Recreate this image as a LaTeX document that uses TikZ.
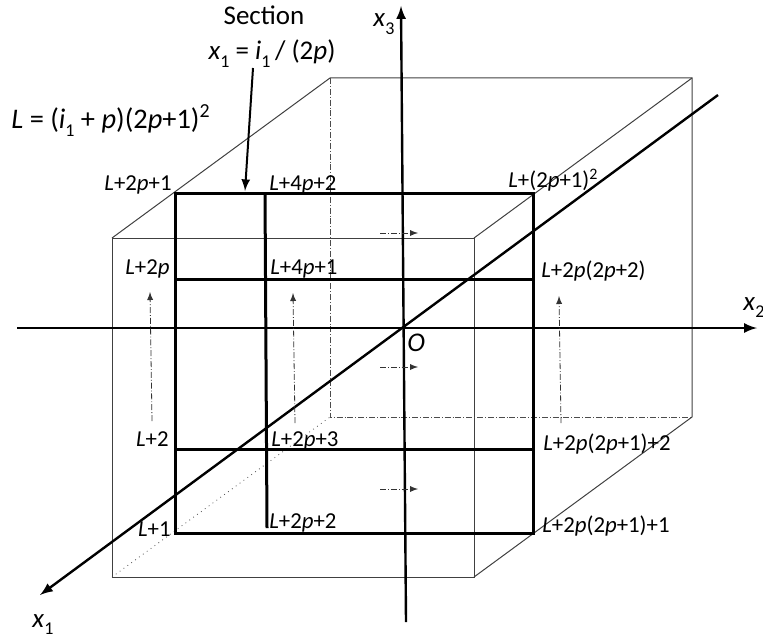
\documentclass[tikz,border=0pt]{standalone}
\usepackage{fontspec}
\setmainfont{Carlito}
\usetikzlibrary{calc,positioning}

\newcommand{\vL}{\textit{L}}
\newcommand{\vp}{\textit{p}}
\newcommand{\vx}{\textit{x}}
\newcommand{\vi}{\textit{i}}
\newcommand{\low}[1]{\raisebox{-0.6ex}{\fontsize{9}{10}\selectfont #1}}

\begin{document}
\begin{tikzpicture}[x=0.5pt,y=-0.5pt,
	cube/.style={black!75,line width=0.5pt},
	hidden/.style={black!70,line width=0.4pt,densely dashdotted},
	grid/.style={black,line width=1.5pt},
	axis/.style={black,line width=1.2pt,-latex},
	flow/.style={black!80,line width=0.4pt,densely dashdotted,-latex},
	lab/.style={inner sep=0pt,font=\fontsize{11.4}{13}\selectfont},
	big/.style={inner sep=0pt,font=\fontsize{13.5}{16}\selectfont}]
	\useasboundingbox (0,0) rectangle (763,642);
	% cube corners
	\coordinate (fa) at (112,238);
	\coordinate (fb) at (474,238);
	\coordinate (fc) at (474,577);
	\coordinate (fd) at (112,577);
	\coordinate (ba) at (330,78);
	\coordinate (bb) at (692,78);
	\coordinate (bc) at (692,417);
	\coordinate (bd) at (330,417);
	\draw [cube] (fa) -- (fb) -- (fc) -- (fd) -- cycle;
	\draw [cube] (fa) -- (ba) -- (bb) -- (bc) -- (fc);
	\draw [cube] (fb) -- (bb);
	\draw [hidden] (ba) -- (bd) -- (bc);
	\draw [black!70,line width=0.4pt,dotted] (fd) -- (bd);
	% section grid
	\coordinate (g1) at (175,193);
	\coordinate (g2) at (533,193);
	\coordinate (g3) at (533,533);
	\coordinate (g4) at (175,533);
	\coordinate (v1) at (265,193);
	\coordinate (v2) at (267,528);
	\coordinate (h1) at (175,279);
	\coordinate (h2) at (533,279);
	\coordinate (h3) at (175,449);
	\coordinate (h4) at (533,449);
	\draw [grid] (g1) -- (g2) -- (g3) -- (g4) -- cycle;
	\draw [grid] (v1) -- (v2);
	\draw [grid] (h1) -- (h2);
	\draw [grid] (h3) -- (h4);
	% axes
	\coordinate (a2s) at (17,328);
	\coordinate (a2e) at (757,328);
	\coordinate (a3s) at (406,622);
	\coordinate (a3e) at (401,6);
	\coordinate (a1s) at (718,95);
	\coordinate (a1e) at (40,595);
	\draw [axis] (a2s) -- (a2e);
	\draw [axis] (a3s) -- (a3e);
	\draw [axis] (a1s) -- (a1e);
	\node [big,anchor=base west] (lx2) at (743,310) {\vx\low{2}};
	\node [big,anchor=base west] (lx3) at (373,27) {\vx\low{3}};
	\node [big,anchor=base west] (lx1) at (32,627) {\vx\low{1}};
	\node [big,anchor=base west] (lo) at (407,351) {\textit{O}};
	% numbering order
	\coordinate (u1s) at (152,421);
	\coordinate (u1e) at (150,292);
	\coordinate (u2s) at (295,423);
	\coordinate (u2e) at (293,293);
	\coordinate (u3s) at (561,423);
	\coordinate (u3e) at (559,296);
	\draw [flow] (u1s) -- (u1e);
	\draw [flow] (u2s) -- (u2e);
	\draw [flow] (u3s) -- (u3e);
	\coordinate (r1s) at (380,233);
	\coordinate (r1e) at (418,233);
	\coordinate (r2s) at (380,367);
	\coordinate (r2e) at (418,367);
	\coordinate (r3s) at (380,489);
	\coordinate (r3e) at (418,489);
	\draw [flow] (r1s) -- (r1e);
	\draw [flow] (r2s) -- (r2e);
	\draw [flow] (r3s) -- (r3e);
	% texts
	\node [big,anchor=base] (sec) at (264,25) {Section};
	\node [big,anchor=base] (seq) at (272,60) {\vx\low{1} = \vi\low{1}\,/ (2\vp)};
	\node [big,anchor=base west,font=\fontsize{14.2}{16}\selectfont] (lform) at (11,128) {\vL{} = (\vi\low{1} + \vp)(2\vp+1)\textsuperscript{2}};
	\coordinate (sectip) at (245,191);
	\draw [black,line width=1pt,-latex] (253,68) -- (sectip);
	\node [lab,anchor=base east] (n1) at (172,190) {\vL+2\vp+1};
	\node [lab,anchor=base west] (n2) at (269,190) {\vL+4\vp+2};
	\node [lab,anchor=base west] (n3) at (508,187) {\vL+(2\vp+1)\textsuperscript{2}};
	\node [lab,anchor=base east] (n4) at (170,274) {\vL+2\vp};
	\node [lab,anchor=base west] (n5) at (270,274) {\vL+4\vp+1};
	\node [lab,anchor=base west] (n6) at (541,277) {\vL+2\vp(2\vp+2)};
	\node [lab,anchor=base east] (n7) at (169,446) {\vL+2};
	\node [lab,anchor=base west] (n8) at (271,446) {\vL+2\vp+3};
	\node [lab,anchor=base west] (n9) at (543,450) {\vL+2\vp(2\vp+1)+2};
	\node [lab,anchor=base east] (n10) at (171,536) {\vL+1};
	\node [lab,anchor=base west] (n11) at (269,528) {\vL+2\vp+2};
	\node [lab,anchor=base west] (n12) at (542,532) {\vL+2\vp(2\vp+1)+1};
\end{tikzpicture}
\end{document}
